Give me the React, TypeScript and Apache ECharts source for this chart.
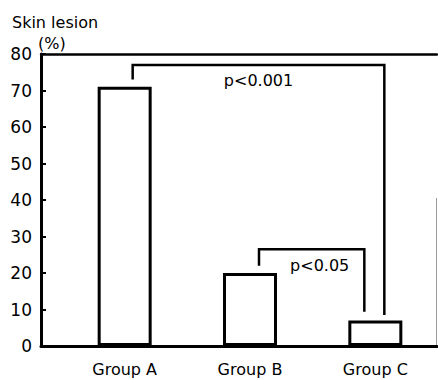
import React, { useEffect, useRef } from "react";
import * as echarts from "echarts";

const categories = ["Group A", "Group B", "Group C"];
const lesionPct = [71, 20, 7];
const yTicks = [0, 10, 20, 30, 40, 50, 60, 70, 80];
// [fromIndex, toIndex, leftLegEnd, bracketTop, rightLegEnd]
const bracketData = [
  [0, 2, 73, 77, 8.5],
  [1, 2, 22, 26.5, 9.4],
];
const bracketLabels = ["p<0.001", "p<0.05"];
// pixel offsets of legs from category centres and of the label (style)
const legOffsets = [
  [8, 9, 0],
  [9, -11, 8],
];

const FONT = "DejaVu Sans";

export default function App() {
  const ref = useRef<HTMLDivElement>(null);
  useEffect(() => {
    const chart = echarts.init(ref.current!, undefined, { renderer: "svg" });
    const yMin = yTicks[0];
    const yMax = yTicks[yTicks.length - 1];
    const option: any = {
      animation: false,
      backgroundColor: "#ffffff",
      textStyle: { fontFamily: FONT, color: "#000" },
      graphic: [
        {
          type: "text",
          left: 12,
          top: 14,
          style: { text: "Skin lesion", font: `16px ${FONT}`, fill: "#000" },
        },
        {
          type: "text",
          left: 38,
          top: 35,
          style: { text: "(%)", font: `16px ${FONT}`, fill: "#000" },
        },
        {
          type: "line",
          shape: { x1: 436.5, y1: 198, x2: 436.5, y2: 346 },
          style: { stroke: "#9a9a9a", lineWidth: 1 },
        },
      ],
      grid: [
        { left: 41, right: 1, top: 54, bottom: 34 },
        { left: 62, right: 0, top: 54, bottom: 34 },
      ],
      xAxis: [
        {
          type: "value",
          gridIndex: 0,
          min: 0,
          max: 1,
          position: "bottom",
          axisLine: { show: true, lineStyle: { color: "#000", width: 3 } },
          axisTick: { show: false },
          axisLabel: { show: false },
          splitLine: { show: false },
        },
        {
          type: "value",
          gridIndex: 0,
          min: 0,
          max: 1,
          position: "top",
          axisLine: { show: true, onZero: false, lineStyle: { color: "#000", width: 2.5 } },
          axisTick: { show: false },
          axisLabel: { show: false },
          splitLine: { show: false },
        },
        {
          type: "category",
          gridIndex: 1,
          data: categories,
          axisLine: { show: false },
          axisTick: { show: false },
          axisLabel: { color: "#000", fontSize: 16, fontFamily: FONT, margin: 15 },
        },
      ],
      yAxis: [
        {
          type: "value",
          gridIndex: 0,
          min: yMin,
          max: yMax,
          interval: 10,
          axisLine: { show: true, onZero: false, lineStyle: { color: "#000", width: 3 } },
          axisTick: { show: true, inside: true, length: 5, lineStyle: { color: "#000", width: 2 } },
          axisLabel: { color: "#000", fontSize: 17, fontFamily: FONT, margin: 9 },
          splitLine: { show: false },
        },
        {
          type: "value",
          gridIndex: 1,
          min: yMin,
          max: yMax,
          show: false,
        },
      ],
      series: [
        {
          type: "bar",
          xAxisIndex: 2,
          yAxisIndex: 1,
          data: lesionPct,
          barWidth: 54,
          itemStyle: { color: "#fff", borderColor: "#000", borderWidth: 3 },
        },
        {
          type: "custom",
          xAxisIndex: 2,
          yAxisIndex: 1,
          data: bracketData,
          encode: { x: [0, 1], y: [2, 3, 4] },
          renderItem: (params: any, api: any) => {
            const i = params.dataIndex;
            const off = legOffsets[i];
            const from = api.value(0);
            const to = api.value(1);
            const pL = api.coord([from, api.value(2)]);
            const pT = api.coord([from, api.value(3)]);
            const pR = api.coord([to, api.value(4)]);
            const xl = pL[0] + off[0];
            const xr = pR[0] + off[1];
            const yt = pT[1];
            return {
              type: "group",
              children: [
                {
                  type: "polyline",
                  shape: {
                    points: [
                      [xl, pL[1]],
                      [xl, yt],
                      [xr, yt],
                      [xr, pR[1]],
                    ],
                  },
                  style: { stroke: "#000", lineWidth: 2.5, fill: null },
                },
                {
                  type: "text",
                  x: (xl + xr) / 2 + off[2],
                  y: yt + 16,
                  style: {
                    text: bracketLabels[i],
                    font: `16px ${FONT}`,
                    fill: "#000",
                    align: "center",
                    verticalAlign: "middle",
                  },
                },
              ],
            };
          },
        },
      ],
    };
    chart.setOption(option);
    return () => chart.dispose();
  }, []);
  return (
    <div
      ref={ref}
      style={{ position: "absolute", left: 0, top: 0, width: 438, height: 380 }}
    />
  );
}
